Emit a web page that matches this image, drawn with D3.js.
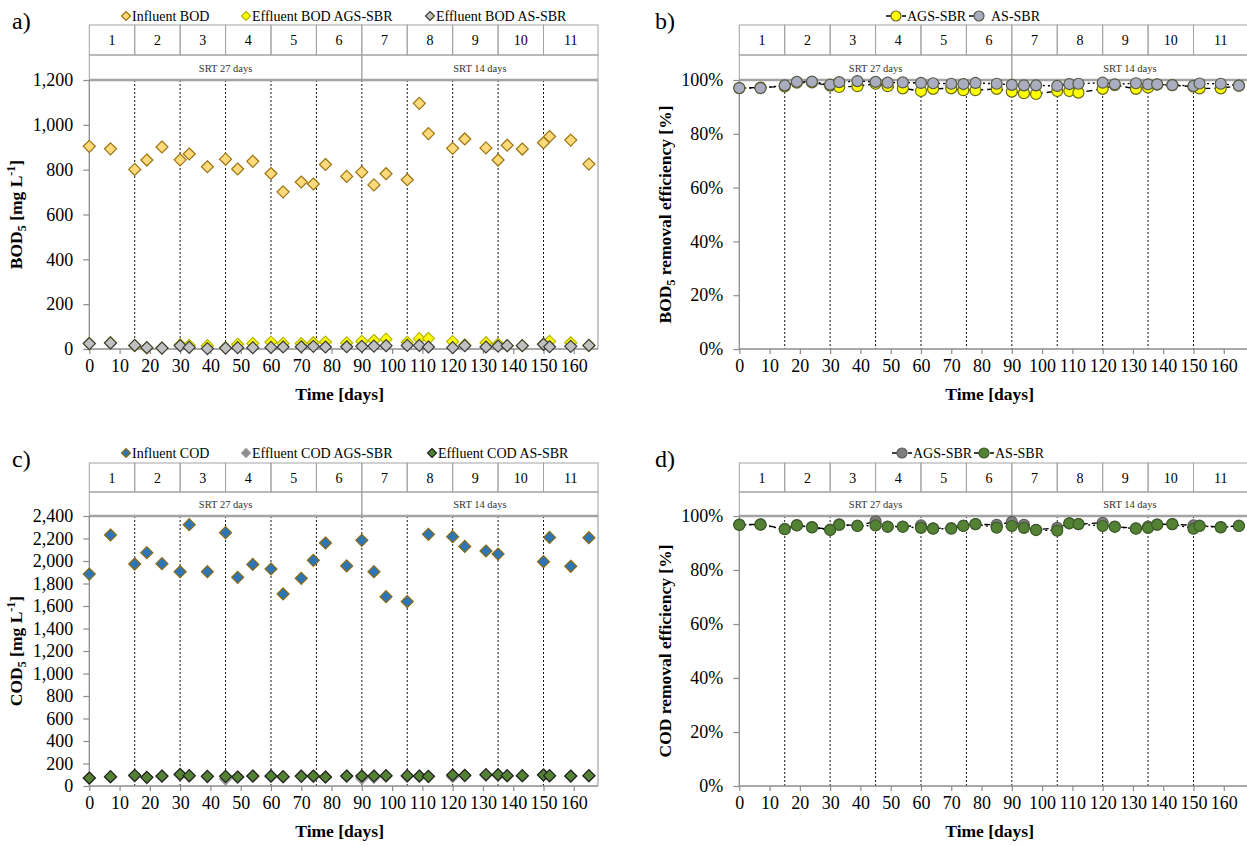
<!DOCTYPE html>
<html>
<head>
<meta charset="utf-8">
<script src="https://cdn.jsdelivr.net/npm/d3@7"></script>
<style>
  body { margin: 0; background: #fff; }
  svg { font-family: "Liberation Serif", "Times New Roman", serif; }
</style>
</head>
<body>
<svg id="chart" width="1247" height="846"></svg>
<script>
// Sampling days (days of operation)
const days = [0, 7, 15, 19, 24, 30, 33, 39, 45, 49, 54, 60, 64, 70, 74, 78, 85, 90, 94, 98,
  105, 109, 112, 120, 124, 131, 135, 138, 143, 150, 152, 159, 165];

// BOD5 concentrations [mg/L]
const influentBOD = [904, 893, 801, 843, 901, 844, 870, 813, 847, 803, 837, 783, 701, 745, 736, 823, 770, 789, 732, 782,
  755, 1096, 961, 895, 937, 897, 843, 909, 892, 920, 948, 932, 825];
const effluentBOD_AGS = [25, 28, 15, 5, 5, 19, 16, 15, 6, 21, 25, 31, 25, 24, 28, 31, 27, 34, 38, 44,
  30, 46, 47, 33, 18, 28, 22, 15, 15, 22, 34, 28, 16];
const effluentBOD_AS = [24, 27, 16, 6, 4, 15, 7, 2, 4, 6, 6, 7, 9, 10, 12, 9, 10, 12, 13, 15,
  16, 16, 9, 6, 15, 9, 13, 15, 15, 21, 10, 12, 16];

// BOD5 removal efficiency [%]
const bodRemoval_AGS = [97.0, 97.2, 97.6, 99.0, 99.1, 97.9, 97.4, 97.7, 98.6, 97.7, 96.9, 95.9, 96.7, 96.9, 96.2, 96.2, 96.7, 95.7, 95.1, 94.8,
  95.9, 95.9, 95.3, 96.7, 98.1, 96.7, 97.2, 98.3, 98.1, 97.5, 96.9, 96.9, 97.9];
const bodRemoval_AS = [97.0, 97.0, 98.0, 99.3, 99.4, 98.3, 99.2, 99.6, 99.3, 99.0, 99.1, 98.9, 98.8, 98.6, 98.5, 98.9, 98.6, 98.2, 98.0, 98.0,
  97.8, 98.5, 98.6, 99.0, 98.4, 98.8, 98.4, 98.4, 98.1, 97.8, 98.7, 98.6, 97.9];

// COD concentrations [mg/L] (null = not measured)
const influentCOD = [1884, 2231, 1973, 2074, 1976, 1905, 2323, 1905, 2252, 1855, 1970, 1929, 1707, 1846, 2006, 2160, 1956, 2184, 1905, 1683,
  1639, null, 2237, 2216, 2130, 2089, 2062, null, null, 1994, 2210, 1953, 2207];
const effluentCOD_AGS = [68, 80, 90, 75, 85, 98, 88, 83, 62, 78, 86, 85, 80, 92, 84, 78, 86, 68, 77, 88,
  86, 86, 84, 83, 92, 97, 96, 90, 90, 101, 88, 86, 90];
const effluentCOD_AS = [71, 83, 95, 77, 89, 104, 92, 86, 86, 80, 89, 89, 83, 86, 89, 80, 89, 89, 89, 92,
  92, 89, 86, 98, 95, 101, 101, 92, 92, 98, 92, 89, 92];

// COD removal efficiency [%]
const codRemoval_AGS = [96.8, 96.9, 95.2, 96.6, 95.9, 95.0, 96.9, 96.4, 98.0, 96.1, 96.1, 96.5, 95.4, 95.5, 96.4, 97.0, 96.7, 97.8, 96.7, 94.9,
  95.6, 97.3, 97.0, 97.5, 96.1, 95.4, 96.1, 96.8, 97.0, 96.5, 96.4, 95.9, 96.4];
const codRemoval_AS = [96.7, 96.8, 95.1, 96.5, 95.8, 94.8, 96.7, 96.3, 96.5, 96.0, 96.0, 95.6, 95.3, 95.3, 96.3, 97.0, 95.7, 96.3, 95.6, 94.8,
  94.6, 97.3, 97.0, 96.3, 96.0, 95.3, 95.6, 96.8, 97.0, 95.3, 96.3, 95.8, 96.3];

// Operating periods and SRT phases
const periodLabels = ["1", "2", "3", "4", "5", "6", "7", "8", "9", "10", "11"];
const periodBounds = [0, 15, 30, 45, 60, 75, 90, 105, 120, 135, 150, 168];
const srtLabels = ["SRT 27 days", "SRT 14 days"];
const srtBounds = [0, 90, 168];

// Axis ticks
const timeTicks = [0, 10, 20, 30, 40, 50, 60, 70, 80, 90, 100, 110, 120, 130, 140, 150, 160];
const bodTicks = [0, 200, 400, 600, 800, 1000, 1200];
const codTicks = [0, 200, 400, 600, 800, 1000, 1200, 1400, 1600, 1800, 2000, 2200, 2400];
const pctTicks = [0, 20, 40, 60, 80, 100];

const svg = d3.select("#chart");
const GRID = "#a3a3a3";

function diamondPath(r) {
  return `M0,${-r}L${r},0L0,${r}L${-r},0Z`;
}

function drawMarker(g, shape, r, fill, stroke) {
  if (shape === "diamond") {
    return g.append("path").attr("d", diamondPath(r))
      .attr("fill", fill).attr("stroke", stroke).attr("stroke-width", 1.2);
  }
  return g.append("circle").attr("r", r)
    .attr("fill", fill).attr("stroke", stroke).attr("stroke-width", 1.2);
}

function drawPanel(p) {
  const g = svg.append("g");
  const x = d3.scaleLinear().domain([0, 168]).range([p.left, p.right]);
  const y = d3.scaleLinear().domain(p.yDomain).range([p.plotBottom, p.plotTop]);

  // panel tag
  g.append("text").attr("x", p.tagX).attr("y", p.tagY)
    .attr("font-size", 24).attr("fill", "#000").text(p.tag);

  // header table: periods
  const rowTop = p.tableTop, rowMid = p.tableMid, rowBot = p.plotTop;
  periodLabels.forEach((lab, i) => {
    const x0 = x(periodBounds[i]), x1 = x(periodBounds[i + 1]);
    g.append("rect").attr("x", x0).attr("y", rowTop).attr("width", x1 - x0).attr("height", rowMid - rowTop)
      .attr("fill", "none").attr("stroke", GRID).attr("stroke-width", 1);
    g.append("text").attr("x", (x0 + x1) / 2).attr("y", (rowTop + rowMid) / 2 + 5)
      .attr("text-anchor", "middle").attr("font-size", 14).text(lab);
  });
  // header table: SRT phases
  srtLabels.forEach((lab, i) => {
    const x0 = x(srtBounds[i]), x1 = x(srtBounds[i + 1]);
    g.append("rect").attr("x", x0).attr("y", rowMid).attr("width", x1 - x0).attr("height", rowBot - rowMid)
      .attr("fill", "none").attr("stroke", GRID).attr("stroke-width", 1);
    g.append("text").attr("x", (x0 + x1) / 2).attr("y", (rowMid + rowBot) / 2 + 4)
      .attr("text-anchor", "middle").attr("font-size", 10.5).attr("fill", "#333").text(lab);
  });

  // right border of plot area
  g.append("line").attr("x1", p.right).attr("x2", p.right).attr("y1", p.plotTop).attr("y2", p.plotBottom)
    .attr("stroke", GRID).attr("stroke-width", 1.2);

  // period separators
  g.selectAll(".sep").data(periodBounds.slice(1, -1)).join("line")
    .attr("x1", d => x(d)).attr("x2", d => x(d))
    .attr("y1", p.plotTop).attr("y2", p.plotBottom)
    .attr("stroke", "#111").attr("stroke-width", 1).attr("stroke-dasharray", "2,2");

  // thick top edge of plot
  g.append("line").attr("x1", p.left).attr("x2", p.right).attr("y1", p.plotTop).attr("y2", p.plotTop)
    .attr("stroke", GRID).attr("stroke-width", 2.5);

  // axes
  const yAxis = g.append("g").attr("transform", `translate(${p.left},0)`)
    .call(d3.axisLeft(y).tickValues(p.yTicks).tickFormat(p.yFormat).tickSize(6).tickPadding(10));
  const xAxis = g.append("g").attr("transform", `translate(0,${p.plotBottom})`)
    .call(d3.axisBottom(x).tickValues(timeTicks).tickFormat(d3.format("d")).tickSize(5).tickPadding(5));
  [yAxis, xAxis].forEach(a => {
    a.select(".domain").attr("stroke", "#8c8c8c").attr("stroke-width", 1.3);
    a.selectAll(".tick line").attr("stroke", "#8c8c8c").attr("stroke-width", 1.2);
    a.selectAll(".tick text").attr("font-size", 18).attr("fill", "#000")
      .attr("font-family", "'Liberation Serif', 'Times New Roman', serif");
  });
  yAxis.select(".domain").attr("d", `M0,${p.plotBottom}V${p.plotTop}`);
  xAxis.select(".domain").attr("d", `M${p.left},0H${p.right}`);

  // axis titles
  g.append("text").attr("x", (p.left + p.right) / 2 - 4).attr("y", p.plotBottom + 51)
    .attr("text-anchor", "middle").attr("font-size", 17.5).attr("font-weight", "bold").text("Time [days]");
  const yt = g.append("text")
    .attr("transform", `translate(${p.yTitleX},${(p.plotTop + p.plotBottom) / 2}) rotate(-90)`)
    .attr("text-anchor", "middle").attr("font-size", 17.5).attr("font-weight", "bold");
  p.yTitle.forEach(part => {
    const t = yt.append("tspan").text(part.t);
    if (part.sub) t.attr("font-size", 12).attr("dy", 4);
    if (part.sup) t.attr("font-size", 12).attr("dy", -7);
    if (part.reset) t.attr("dy", part.reset);
  });

  // series: dashed connecting lines first, markers on top
  p.series.forEach(s => {
    const pts = days.map((d, i) => ({ d, v: s.values[i] })).filter(o => o.v != null);
    if (s.dash) {
      g.append("path").datum(pts)
        .attr("d", d3.line().x(o => x(o.d)).y(o => y(o.v)))
        .attr("fill", "none").attr("stroke", "#000").attr("stroke-width", 1.4)
        .attr("stroke-dasharray", s.dash);
    }
  });
  p.series.forEach(s => {
    const pts = days.map((d, i) => ({ d, v: s.values[i] })).filter(o => o.v != null);
    pts.forEach(o => {
      const m = g.append("g").attr("transform", `translate(${x(o.d)},${y(o.v)})`);
      drawMarker(m, s.shape, s.r, s.fill, s.stroke);
    });
  });

  // legend
  p.series.forEach((s, i) => {
    const lx = p.legendX[i], ly = p.legendY;
    const lg = g.append("g");
    if (s.dash) {
      lg.append("line").attr("x1", lx - 10).attr("x2", lx + (s.legendRightLine ? 10 : 0))
        .attr("y1", ly).attr("y2", ly).attr("stroke", "#000").attr("stroke-width", 1.4)
        .attr("stroke-dasharray", "5,3");
    }
    const m = lg.append("g").attr("transform", `translate(${lx},${ly})`);
    drawMarker(m, s.shape, s.shape === "diamond" ? 4.5 : 5, s.fill, s.stroke);
    lg.append("text").attr("x", lx + (s.dash ? (s.legendRightLine ? 11 : 12) : 6)).attr("y", ly + 5)
      .attr("font-size", 14).text(s.name);
  });
}

const leftCol = { left: 89.3, right: 598, tagX: 12, yTitleX: 22 };
const rightCol = { left: 739.3, right: 1248, tagX: 655, yTitleX: 671 };
const topRow = { tableTop: 25, tableMid: 55, plotTop: 80, plotBottom: 349, tagY: 29, legendY: 16 };
const botRow = { tableTop: 463, tableMid: 492, plotTop: 516, plotBottom: 786, tagY: 467, legendY: 453 };

drawPanel(Object.assign({}, leftCol, topRow, {
  tag: "a)",
  yDomain: [0, 1200], yTicks: bodTicks, yFormat: d3.format(","),
  yTitle: [{ t: "BOD" }, { t: "5", sub: true }, { t: " [mg L", reset: -4 }, { t: "-1", sup: true }, { t: "]", reset: 7 }],
  legendX: [126, 246, 430],
  series: [
    { name: "Influent BOD", values: influentBOD, shape: "diamond", r: 6, fill: "#ffd97a", stroke: "#9a7410" },
    { name: "Effluent BOD AGS-SBR", values: effluentBOD_AGS, shape: "diamond", r: 6, fill: "#ffff00", stroke: "#b5b500" },
    { name: "Effluent BOD AS-SBR", values: effluentBOD_AS, shape: "diamond", r: 6, fill: "#c0c0c0", stroke: "#3a3a3a" }
  ]
}));

drawPanel(Object.assign({}, rightCol, topRow, {
  tag: "b)",
  yDomain: [0, 100], yTicks: pctTicks, yFormat: d => d + "%",
  yTitle: [{ t: "BOD" }, { t: "5", sub: true }, { t: " removal efficiency [%]", reset: -4 }],
  legendX: [896, 979],
  series: [
    { name: "AGS-SBR", values: bodRemoval_AGS, shape: "circle", r: 5.5, fill: "#ffff00", stroke: "#6b6b1a",
      dash: "6,4", legendRightLine: true },
    { name: "AS-SBR", values: bodRemoval_AS, shape: "circle", r: 5.5, fill: "#a9adbf", stroke: "#555a45",
      dash: "2,3" }
  ]
}));

drawPanel(Object.assign({}, leftCol, botRow, {
  tag: "c)",
  yDomain: [0, 2400], yTicks: codTicks, yFormat: d3.format(","),
  yTitle: [{ t: "COD" }, { t: "5", sub: true }, { t: " [mg L", reset: -4 }, { t: "-1", sup: true }, { t: "]", reset: 7 }],
  legendX: [126, 246, 432],
  series: [
    { name: "Influent COD", values: influentCOD, shape: "diamond", r: 6, fill: "#2e75b6", stroke: "#8a6a10" },
    { name: "Effluent COD AGS-SBR", values: effluentCOD_AGS, shape: "diamond", r: 6, fill: "#8c8c8c", stroke: "#9a9a9a" },
    { name: "Effluent COD AS-SBR", values: effluentCOD_AS, shape: "diamond", r: 6, fill: "#548235", stroke: "#1f1f1f" }
  ]
}));

drawPanel(Object.assign({}, rightCol, botRow, {
  tag: "d)",
  yDomain: [0, 100], yTicks: pctTicks, yFormat: d => d + "%",
  yTitle: [{ t: "COD removal efficiency [%]" }],
  legendX: [902, 984],
  series: [
    { name: "AGS-SBR", values: codRemoval_AGS, shape: "circle", r: 5.5, fill: "#7f7f7f", stroke: "#5a5a5a",
      dash: "6,4", legendRightLine: true },
    { name: "AS-SBR", values: codRemoval_AS, shape: "circle", r: 5.5, fill: "#548235", stroke: "#3b5b25",
      dash: "2,3", legendRightLine: true }
  ]
}));
</script>
</body>
</html>
